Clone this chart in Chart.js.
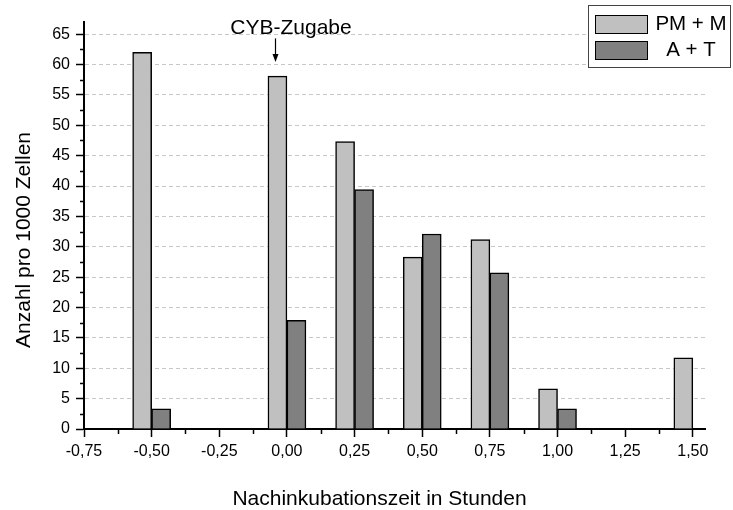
<!DOCTYPE html>
<html><head><meta charset="utf-8">
<script src="https://cdn.jsdelivr.net/npm/chart.js@4/dist/chart.umd.min.js"></script>
<style>html,body{margin:0;padding:0;background:#fff;}canvas{display:block}</style>
</head><body>
<canvas id="c" width="733" height="510"></canvas>
<script>
// ---- data ----
const categories = [-0.5, 0, 0.25, 0.5, 0.75, 1.0, 1.5];
const pmM = [62.0, 58.1, 47.3, 28.3, 31.2, 6.6, 11.7];
const aT  = [3.3, 17.9, 39.4, 32.1, 25.7, 3.3, null];
const seriesLabels = ['PM + M', 'A + T'];
const xTicks = [-0.75, -0.5, -0.25, 0, 0.25, 0.5, 0.75, 1.0, 1.25, 1.5];
const yTicks = [0, 5, 10, 15, 20, 25, 30, 35, 40, 45, 50, 55, 60, 65];
const xTitle = 'Nachinkubationszeit in Stunden';
const yTitle = 'Anzahl pro 1000 Zellen';
const annotationText = 'CYB-Zugabe';

const FONT = '"Liberation Sans", Arial, Helvetica, sans-serif';
const colors = ['#c0c0c0', '#808080'];

const extras = {
  id: 'extras',
  afterDraw(chart) {
    const ctx = chart.ctx, xs = chart.scales.x, ys = chart.scales.y, ca = chart.chartArea;
    ctx.save();
    ctx.strokeStyle = '#000';
    ctx.lineWidth = 1.5;
    // minor y ticks
    for (let i = 0; i < yTicks.length - 1; i++) {
      const p = Math.round(ys.getPixelForValue((yTicks[i] + yTicks[i + 1]) / 2)) + 0.5;
      ctx.beginPath(); ctx.moveTo(ca.left - 4, p); ctx.lineTo(ca.left, p); ctx.stroke();
    }
    // minor x ticks
    for (let i = 0; i < xTicks.length - 1; i++) {
      const p = Math.round(xs.getPixelForValue((xTicks[i] + xTicks[i + 1]) / 2)) + 0.5;
      ctx.beginPath(); ctx.moveTo(p, ca.bottom); ctx.lineTo(p, ca.bottom + 5); ctx.stroke();
    }
    // axis titles
    ctx.fillStyle = '#000';
    ctx.font = '21px ' + FONT;
    ctx.textAlign = 'center'; ctx.textBaseline = 'middle';
    ctx.fillText(xTitle, 379.5, 499);
    ctx.save();
    ctx.translate(24, 240);
    ctx.rotate(-Math.PI / 2);
    ctx.fillText(yTitle, 0, 0);
    ctx.restore();
    // annotation
    ctx.fillText(annotationText, xs.getPixelForValue(0.015), ys.getPixelForValue(66.0));
    const ax = Math.round(xs.getPixelForValue(-0.045)) + 0.5;
    const ay1 = ys.getPixelForValue(64.3), ay2 = ys.getPixelForValue(60.4);
    ctx.lineWidth = 1.2;
    ctx.beginPath(); ctx.moveTo(ax, ay1); ctx.lineTo(ax, ay2 - 6); ctx.stroke();
    ctx.beginPath(); ctx.moveTo(ax - 3, ay2 - 8); ctx.lineTo(ax + 3, ay2 - 8); ctx.lineTo(ax, ay2); ctx.closePath(); ctx.fill();
    // legend
    ctx.fillStyle = '#fff';
    ctx.fillRect(588, 5, 143, 63);
    ctx.strokeStyle = '#444'; ctx.lineWidth = 1;
    ctx.strokeRect(588.5, 5.5, 142, 62);
    const rows = [15, 41];
    chart.data.datasets.forEach((ds, i) => {
      ctx.fillStyle = ds.backgroundColor;
      ctx.fillRect(595, rows[i], 52, 18);
      ctx.strokeStyle = '#000'; ctx.lineWidth = 1;
      ctx.strokeRect(595.5, rows[i] + 0.5, 52, 18);
      ctx.fillStyle = '#000';
      ctx.font = '20.5px ' + FONT;
      ctx.textAlign = 'center'; ctx.textBaseline = 'middle';
      ctx.fillText(ds.label, 691, rows[i] + 9.5);
    });
    ctx.restore();
  }
};

new Chart(document.getElementById('c'), {
  type: 'bar',
  data: {
    datasets: [
      { label: seriesLabels[0], data: categories.map((x, i) => ({ x, y: pmM[i] })),
        backgroundColor: colors[0], borderColor: '#000', borderWidth: 1.5 },
      { label: seriesLabels[1], data: categories.map((x, i) => ({ x, y: aT[i] })),
        backgroundColor: colors[1], borderColor: '#000', borderWidth: 1.5 }
    ]
  },
  options: {
    responsive: false,
    animation: false,
    devicePixelRatio: 1,
    barThickness: 19,
    layout: { padding: { top: 22, right: 28, left: 0, bottom: 0 } },
    plugins: { legend: { display: false }, tooltip: { enabled: false } },
    scales: {
      x: {
        type: 'linear', min: -0.75, max: 1.545, offset: false,
        afterBuildTicks: s => { s.ticks = xTicks.map(v => ({ value: v })); },
        afterFit: s => { s.height = 81; s.paddingLeft = 0; s.paddingRight = 0; },
        grid: { offset: false, drawOnChartArea: false, drawTicks: true, tickLength: 8, tickColor: '#000', tickWidth: 1.5 },
        border: { display: true, color: '#000', width: 2 },
        ticks: { autoSkip: false, maxRotation: 0, padding: 5, color: '#000', font: { family: FONT, size: 16 },
                 callback: v => v.toFixed(2).replace('.', ',') },
        title: { display: false }
      },
      y: {
        min: 0, max: 67,
        afterBuildTicks: s => { s.ticks = yTicks.map(v => ({ value: v })); },
        afterFit: s => { s.width = 84; s.paddingTop = 0; s.paddingBottom = 0; },
        grid: { color: '#c8c8c8', lineWidth: 1, drawTicks: true, tickLength: 8, tickColor: '#000', tickWidth: 1.5, tickBorderDash: [] },
        border: { display: true, color: '#000', width: 2, dash: [4, 3] },
        ticks: { padding: 6, color: '#000', font: { family: FONT, size: 16 } },
        title: { display: false }
      }
    }
  },
  plugins: [extras]
});
</script>
</body></html>
